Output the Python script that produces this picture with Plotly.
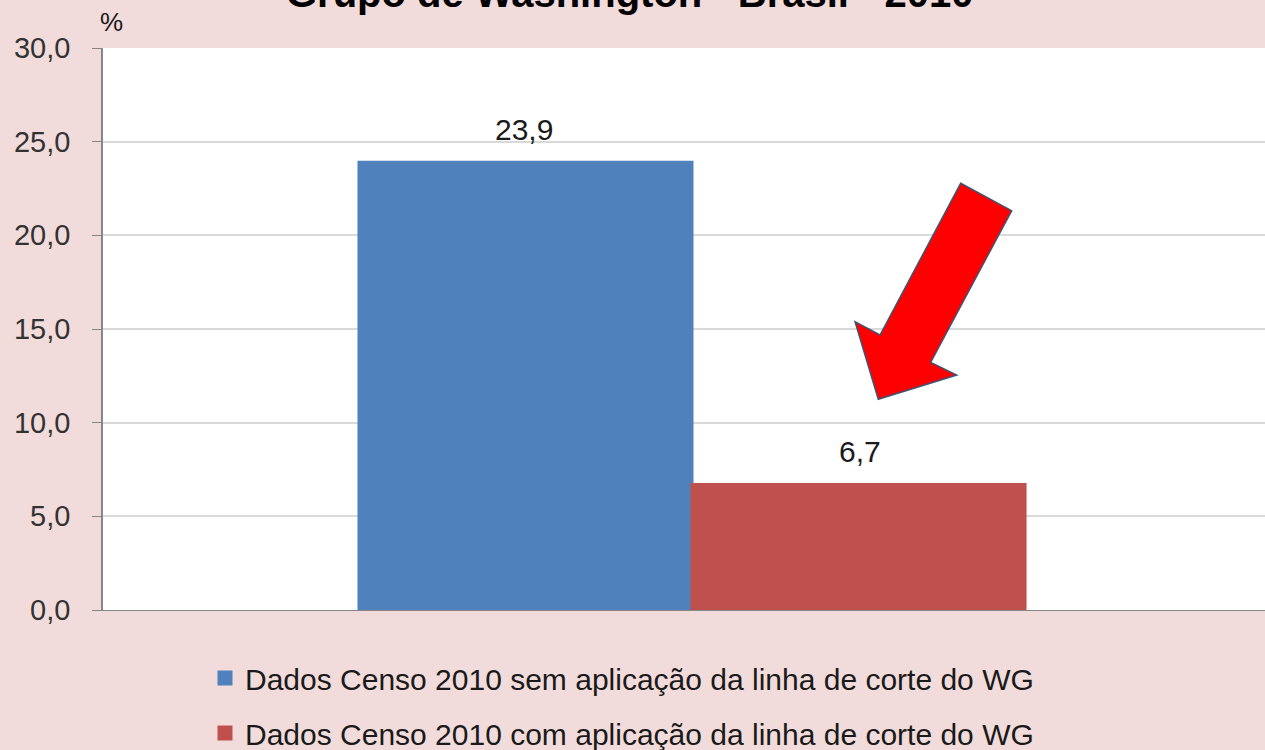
import plotly.graph_objects as go

categories = ["Brasil"]
series_names = [
    "Dados Censo 2010 sem aplicação da linha de corte do WG",
    "Dados Censo 2010 com aplicação da linha de corte do WG",
]
values_sem = [23.9]
values_com = [6.7]
colors = ["#4F81BD", "#C0504D"]
title_text = "Grupo de Washington - Brasil - 2010"

W, H = 1265, 750
L, R, T, B = 103, 0, 48, 140
PW, PH = W - L - R, H - T - B

def px2paper(px, py):
    return (px - L) / PW, (H - B - py) / PH

FONT = "Liberation Sans"

fig = go.Figure()
for name, vals, col in [(series_names[0], values_sem, colors[0]),
                        (series_names[1], values_com, colors[1])]:
    fig.add_trace(go.Bar(x=categories, y=vals, name=name, marker_color=col,
                         marker_line_width=3, marker_line_color=col,
                         legendgroup=name))

# data labels
bw = 0.2852
for i, vals in enumerate([values_sem, values_com]):
    for j, v in enumerate(vals):
        fig.add_annotation(x=j + (i - 0.5) * bw, y=v, xref="x", yref="y",
                           text=f"{v:.1f}".replace(".", ","), showarrow=False,
                           yanchor="middle", yshift=33,
                           font=dict(family=FONT, size=30, color="#1a1a1a"))

# arrow decoration
pts = [(960.7, 183.3), (1011.7, 210.7), (930.7, 362.3), (956.7, 375.0),
       (878.3, 399.3), (855.0, 321.7), (880.0, 335.0)]
pp = [px2paper(x, y) for x, y in pts]
path = "M " + " L ".join(f"{x:.4f},{y:.4f}" for x, y in pp) + " Z"
fig.add_shape(type="path", path=path, xref="paper", yref="paper",
              fillcolor="#FF0000", line=dict(color="#3F5471", width=1.5))

# title (cropped at top in reference)
tx, ty = px2paper(630, 17)
fig.add_annotation(text=f"<b>{title_text}</b>", x=0.5, xref="paper",
                   y=ty, yref="paper", xanchor="center", yanchor="bottom",
                   showarrow=False, xshift=(630 - (L + PW / 2)),
                   font=dict(family=FONT, size=40, color="#000000"))
# unit label
ux, uy = px2paper(111, 22)
fig.add_annotation(text="%", x=ux, y=uy, xref="paper", yref="paper",
                   showarrow=False, xanchor="center", yanchor="middle",
                   font=dict(family=FONT, size=26, color="#1a1a1a"))

lx, ly = px2paper(205, 652)
fig.update_layout(
    width=W, height=H,
    margin=dict(l=L, r=R, t=T, b=B, autoexpand=False),
    paper_bgcolor="#F2DCDB", plot_bgcolor="#FFFFFF",
    barmode="group", bargap=0.4346, bargroupgap=0,
    separators=",.",
    showlegend=True,
    legend=dict(x=lx, y=ly, xanchor="left", yanchor="top",
                font=dict(family=FONT, size=30, color="#1a1a1a"),
                bgcolor="rgba(0,0,0,0)", tracegroupgap=13,
                traceorder="grouped"),
    xaxis=dict(range=[-0.5, 0.4864], showticklabels=False, ticks="",
               showline=True, linecolor="#868686", linewidth=1,
               showgrid=False, zeroline=False, fixedrange=True),
    yaxis=dict(range=[0, 30], dtick=5, tick0=0, tickformat=".1f",
               showgrid=True, gridcolor="#D9D9D9", gridwidth=1.5,
               showline=True, linecolor="#868686", linewidth=1.5,
               ticks="outside", ticklen=9, tickcolor="#868686",
               ticklabelstandoff=16,
               zeroline=False,
               tickfont=dict(family=FONT, size=29, color="#333333")),
)
fig.write_html("out.html", config={"displayModeBar": False},
               post_script="document.body.style.margin='0px';"
                           "document.body.style.padding='0px';")
